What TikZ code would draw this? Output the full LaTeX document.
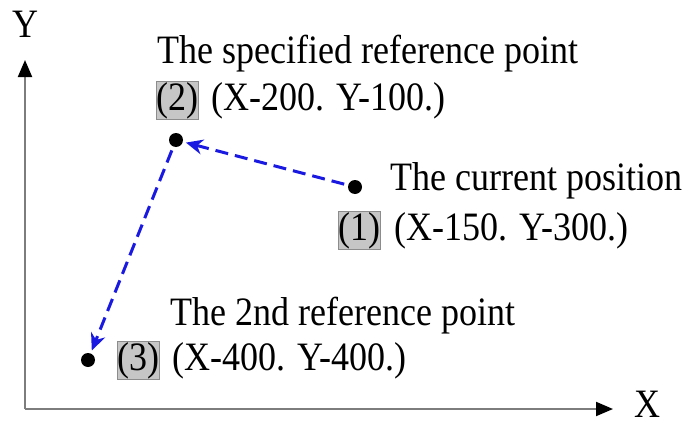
\documentclass[tikz,border=0pt]{standalone}
\usepackage{fontspec}
\setmainfont{Liberation Serif}
\usetikzlibrary{arrows.meta}
\definecolor{boxgray}{RGB}{198,198,198}
\definecolor{boxedge}{RGB}{140,140,140}
\definecolor{axisgray}{RGB}{125,125,125}
\definecolor{pathblue}{RGB}{25,25,225}
\newcommand{\tallt}[1]{\scalebox{1}[1.12]{#1}}
\begin{document}
\begin{tikzpicture}[x=1pt,y=-1pt,
  lbl/.style={font=\fontsize{36}{38}\selectfont, inner sep=0pt, anchor=base west},
  numbox/.style={font=\fontsize{36}{38}\selectfont, fill=boxgray, draw=boxedge, line width=0.6pt, inner xsep=0pt, inner ysep=0.5pt, anchor=base},
  dot/.style={circle, fill=black, inner sep=0pt, minimum size=14pt},
  axis/.style={draw=axisgray, line width=2pt, -{Triangle[length=17pt,width=14pt,fill=black,color=black]}},
  move/.style={draw=pathblue, line width=3pt, dash pattern=on 13pt off 7pt, -{Stealth[length=17pt,width=15pt]}, shorten >=3pt, shorten <=4pt}]
\useasboundingbox (0,0) rectangle (699,423);
\coordinate (O) at (25,409);
\coordinate (Ytip) at (25,60);
\coordinate (Xtip) at (613,409);
\draw[axis] (O) -- (Ytip);
\draw[axis] (O) -- (Xtip);
\node[font=\fontsize{36}{38}\selectfont, inner sep=0pt] (ylab) at (25,24) {\tallt{Y}};
\node[font=\fontsize{36}{38}\selectfont, inner sep=0pt] (xlab) at (647,404) {\tallt{X}};
\node[dot] (p1) at (355,187) {};
\node[dot] (p2) at (176,140) {};
\node[dot] (p3) at (88,360) {};
\draw[move] (p1) -- (p2);
\draw[move] (p2) -- (p3);
\node[lbl] (t2) at (157,63) {\tallt{The specified reference point}};
\node[numbox] (n2) at (177,110) {\tallt{(2)}};
\node[lbl] (c2) at (211,110) {\tallt{(X-200. Y-100.)}};
\node[lbl] (t1) at (390,190) {\tallt{The current position}};
\node[numbox] (n1) at (359,240) {\tallt{(1)}};
\node[lbl] (c1) at (394,240) {\tallt{(X-150. Y-300.)}};
\node[lbl] (t3) at (170,325) {\tallt{The 2nd reference point}};
\node[numbox] (n3) at (138,370) {\tallt{(3)}};
\node[lbl] (c3) at (172,370) {\tallt{(X-400. Y-400.)}};
\end{tikzpicture}
\end{document}
